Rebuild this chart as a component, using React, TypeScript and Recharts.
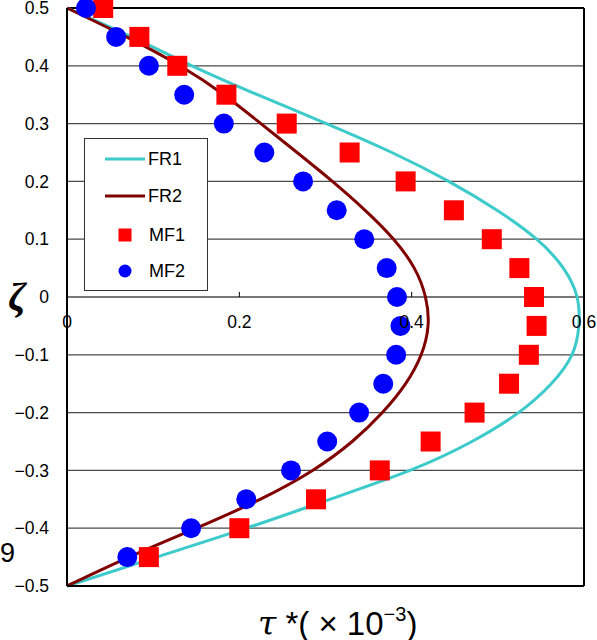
import React from "react";
import {
  ComposedChart,
  Line,
  Scatter,
  XAxis,
  YAxis,
  CartesianGrid,
  ReferenceLine,
  ReferenceDot,
} from "recharts";

// measured points, zeta from top (0.5) to bottom
const ZETA_MARKS = [
  0.5, 0.45, 0.4, 0.35, 0.3, 0.25, 0.2, 0.15, 0.1, 0.05, 0, -0.05, -0.1, -0.15,
  -0.2, -0.25, -0.3, -0.35, -0.4, -0.45,
];
const MF1 = [
  0.042, 0.084, 0.128, 0.185, 0.255, 0.328, 0.393, 0.449, 0.493, 0.525, 0.542,
  0.545, 0.536, 0.513, 0.473, 0.422, 0.363, 0.289, 0.2, 0.095,
];
const MF2 = [
  0.022, 0.057, 0.095, 0.136, 0.182, 0.229, 0.274, 0.313, 0.345, 0.371, 0.383,
  0.387, 0.382, 0.367, 0.339, 0.302, 0.26, 0.208, 0.144, 0.07,
];

// model curves
const ZETA_CURVE = [
  0.5, 0.45, 0.4, 0.35, 0.3, 0.25, 0.2, 0.15, 0.1, 0.05, 0, -0.05, -0.1, -0.15,
  -0.2, -0.25, -0.3, -0.35, -0.4, -0.45, -0.5,
];
const FR1 = [
  0, 0.075, 0.145, 0.221, 0.301, 0.377, 0.443, 0.499, 0.545, 0.576, 0.592,
  0.594, 0.586, 0.562, 0.524, 0.47, 0.398, 0.305, 0.208, 0.104, 0,
];
const FR2 = [
  0, 0.069, 0.131, 0.182, 0.225, 0.267, 0.308, 0.346, 0.379, 0.403, 0.416,
  0.419, 0.411, 0.393, 0.366, 0.331, 0.285, 0.224, 0.15, 0.072, 0,
];

const X_TICKS = [0, 0.2, 0.4, 0.6];
const Y_TICKS = [-0.5, -0.4, -0.3, -0.2, -0.1, 0, 0.1, 0.2, 0.3, 0.4, 0.5];

const CYAN = "#3CCACA";
const DARK_RED = "#800000";
const RED = "#FF0000";
const BLUE = "#0000FF";
const FONT = "'Liberation Sans', Arial, sans-serif";

const fr1Data = ZETA_CURVE.map((z, i) => ({ tau: FR1[i], zeta: z }));
const fr2Data = ZETA_CURVE.map((z, i) => ({ tau: FR2[i], zeta: z }));
const mf1Data = ZETA_MARKS.map((z, i) => ({ tau: MF1[i], zeta: z }));
const mf2Data = ZETA_MARKS.map((z, i) => ({ tau: MF2[i], zeta: z }));

const fmt = (v: number) => (v < 0 ? "\u2212" + Math.abs(v) : String(v));

const SquareMark = (props: any) => (
  <rect x={props.cx - 10} y={props.cy - 10} width={20} height={20} fill={RED} />
);
const CircleMark = (props: any) => (
  <circle cx={props.cx} cy={props.cy} r={10} fill={BLUE} />
);

function LegendBox() {
  return (
    <svg width={124} height={153} style={{ display: "block" }}>
      <rect x={0.5} y={0.5} width={123} height={152} fill="#fff" stroke="#333" />
      <line x1={21} y1={21} x2={61} y2={21} stroke={CYAN} strokeWidth={3} />
      <text x={64} y={27} fontSize={18} fontFamily={FONT}>FR1</text>
      <line x1={21} y1={58} x2={61} y2={58} stroke={DARK_RED} strokeWidth={3} />
      <text x={64} y={64} fontSize={18} fontFamily={FONT}>FR2</text>
      <rect x={34.5} y={90.5} width={13} height={13} fill={RED} />
      <text x={65} y={103} fontSize={18} fontFamily={FONT}>MF1</text>
      <circle cx={41} cy={133} r={6.5} fill={BLUE} />
      <text x={65} y={139} fontSize={18} fontFamily={FONT}>MF2</text>
    </svg>
  );
}

export default function App() {
  return (
    <div
      style={{
        position: "absolute",
        left: 0,
        top: 0,
        width: 597,
        height: 640,
        background: "#fff",
        overflow: "hidden",
      }}
    >
      <ComposedChart
        width={597}
        height={640}
        margin={{ top: 8, right: 13, bottom: 24, left: 0 }}
      >
        <CartesianGrid
          horizontal={true}
          vertical={false}
          stroke="#4a4a4a"
          strokeWidth={1.3}
        />
        <XAxis
          type="number"
          dataKey="tau"
          domain={[0, 0.6]}
          ticks={X_TICKS}
          tick={false}
          tickLine={false}
          height={30}
          axisLine={{ stroke: "#000", strokeWidth: 2 }}
        />
        <YAxis
          type="number"
          dataKey="zeta"
          domain={[-0.5, 0.5]}
          ticks={Y_TICKS}
          interval={0}
          width={67}
          tickSize={0}
          tickMargin={18}
          tickFormatter={fmt}
          tick={{ fontSize: 17.5, fill: "#000", fontFamily: FONT }}
          axisLine={{ stroke: "#000", strokeWidth: 2 }}
        />
        <ReferenceLine y={0.5} stroke="#000" strokeWidth={2} />
        <ReferenceLine x={0.6} stroke="#000" strokeWidth={2} />
        {X_TICKS.slice(1, 3).map((t) => (
          <ReferenceLine
            key={"tk" + t}
            segment={[
              { x: t, y: 0 },
              { x: t, y: 0.009 },
            ]}
            stroke="#000"
          />
        ))}
        {X_TICKS.map((t) => (
          <ReferenceDot
            key={"xl" + t}
            x={t}
            y={0}
            r={0}
            stroke="none"
            label={{
              value: String(t),
              position: "bottom",
              offset: 19,
              fontSize: 17.5,
              fill: "#000",
              fontFamily: FONT,
            }}
          />
        ))}
        <Line
          data={fr1Data}
          dataKey="zeta"
          type="natural"
          stroke={CYAN}
          strokeWidth={3}
          dot={false}
          activeDot={false}
          isAnimationActive={false}
        />
        <Line
          data={fr2Data}
          dataKey="zeta"
          type="natural"
          stroke={DARK_RED}
          strokeWidth={3}
          dot={false}
          activeDot={false}
          isAnimationActive={false}
        />
        <Scatter data={mf1Data} shape={SquareMark} isAnimationActive={false} />
        <Scatter data={mf2Data} shape={CircleMark} isAnimationActive={false} />
      </ComposedChart>
      <div style={{ position: "absolute", left: 84, top: 138 }}>
        <LegendBox />
      </div>
      <svg
        width={597}
        height={640}
        style={{ position: "absolute", left: 0, top: 0, pointerEvents: "none" }}
      >
        <text
          x={17}
          y={310}
          textAnchor="middle"
          fontSize={40}
          fontStyle="italic"
          fontWeight="bold"
          fontFamily="'Liberation Serif', serif"
        >
          ζ
        </text>
        <text x={0} y={562} fontSize={27} fontFamily={FONT}>
          9
        </text>
        <text x={258} y={635} fontSize={33} fontFamily={FONT}>
          <tspan fontStyle="italic" fontFamily="'DejaVu Serif', serif">τ</tspan>
          <tspan> *( × 10</tspan>
          <tspan fontSize={20} dy={-14}>−3</tspan>
          <tspan dy={14}>)</tspan>
        </text>
      </svg>
    </div>
  );
}
